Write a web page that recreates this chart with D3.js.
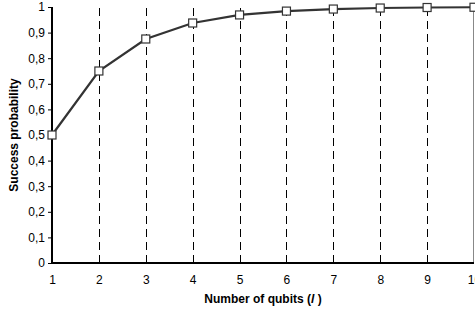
<!DOCTYPE html>
<html>
<head>
<meta charset="utf-8">
<script src="https://cdn.jsdelivr.net/npm/d3@7"></script>
<style>
  body { margin: 0; background: #fff; }
  text { font-family: "Liberation Sans", Arial, sans-serif; }
</style>
</head>
<body>
<div id="chart"></div>
<script>
// data
var qubits = [1, 2, 3, 4, 5, 6, 7, 8, 9, 10];
var success = [0.5, 0.75, 0.875, 0.9375, 0.969, 0.984, 0.992, 0.996, 0.998, 0.999];
var yTicks = [0, 0.1, 0.2, 0.3, 0.4, 0.5, 0.6, 0.7, 0.8, 0.9, 1];

var W = 475, H = 313,
    plotLeft = 52, plotRight = 474, plotTop = 7, plotBottom = 263;

var svg = d3.select("#chart")
            .append("svg")
            .attr("width", W)
            .attr("height", H);

var x = d3.scaleLinear().domain([1, 10]).range([plotLeft, plotRight]);
var y = d3.scaleLinear().domain([0, 1]).range([plotBottom, plotTop]);

// dashed verticals
svg.selectAll("line.grid")
   .data(qubits.slice(1, 9))
   .enter()
   .append("line")
   .attr("class", "grid")
   .attr("x1", function(d) { return Math.round(x(d)) + 0.5; })
   .attr("x2", function(d) { return Math.round(x(d)) + 0.5; })
   .attr("y1", y(0))
   .attr("y2", y(1))
   .attr("stroke", "#000")
   .attr("stroke-width", 1)
   .attr("stroke-dasharray", "8,5");

// right frame line
svg.append("line")
   .attr("x1", plotRight - 0.5).attr("x2", plotRight - 0.5)
   .attr("y1", y(0)).attr("y2", y(1))
   .attr("stroke", "#888")
   .attr("stroke-width", 1);

// y axis
var yAxis = svg.append("g")
   .attr("transform", "translate(" + plotLeft + ",0)")
   .call(d3.axisLeft(y).tickValues(yTicks).tickSize(4).tickPadding(3)
           .tickFormat(function(d) { return d3.format("")(d).replace(".", ","); }));
yAxis.select(".domain").attr("stroke-width", 2).attr("d", "M0," + y(0) + "V" + y(1));
yAxis.selectAll("text").attr("font-size", 12).attr("fill", "#000")
     .attr("font-family", "Liberation Sans, Arial, sans-serif");

// x axis
var xAxis = svg.append("g")
   .attr("transform", "translate(0," + plotBottom + ")")
   .call(d3.axisBottom(x).tickValues(qubits).tickSize(0).tickPadding(12)
           .tickFormat(d3.format("d")));
xAxis.select(".domain").attr("stroke-width", 2).attr("d", "M" + plotLeft + ",0H" + plotRight);
xAxis.selectAll("text").attr("font-size", 12).attr("fill", "#000")
     .attr("font-family", "Liberation Sans, Arial, sans-serif");

// curve
var line = d3.line()
   .x(function(d, i) { return x(qubits[i]); })
   .y(function(d) { return y(d); });

svg.append("path")
   .datum(success)
   .attr("d", line)
   .attr("fill", "none")
   .attr("stroke", "#333")
   .attr("stroke-width", 2.2);

svg.selectAll("rect.mark")
   .data(success)
   .enter()
   .append("rect")
   .attr("class", "mark")
   .attr("x", function(d, i) { return x(qubits[i]) - 4; })
   .attr("y", function(d) { return y(d) - 4; })
   .attr("width", 8)
   .attr("height", 8)
   .attr("fill", "#fff")
   .attr("stroke", "#333")
   .attr("stroke-width", 1.2);

// titles
svg.append("text")
   .attr("transform", "translate(18," + ((plotTop + plotBottom) / 2) + ") rotate(-90)")
   .attr("text-anchor", "middle")
   .attr("font-size", 12)
   .attr("font-weight", "bold")
   .text("Success probability");

var xt = svg.append("text")
   .attr("x", 263)
   .attr("y", 303)
   .attr("text-anchor", "middle")
   .attr("font-size", 12)
   .attr("font-weight", "bold");
xt.append("tspan").text("Number of qubits (");
xt.append("tspan").attr("font-style", "italic").text("l");
xt.append("tspan").text(" )");
</script>
</body>
</html>
